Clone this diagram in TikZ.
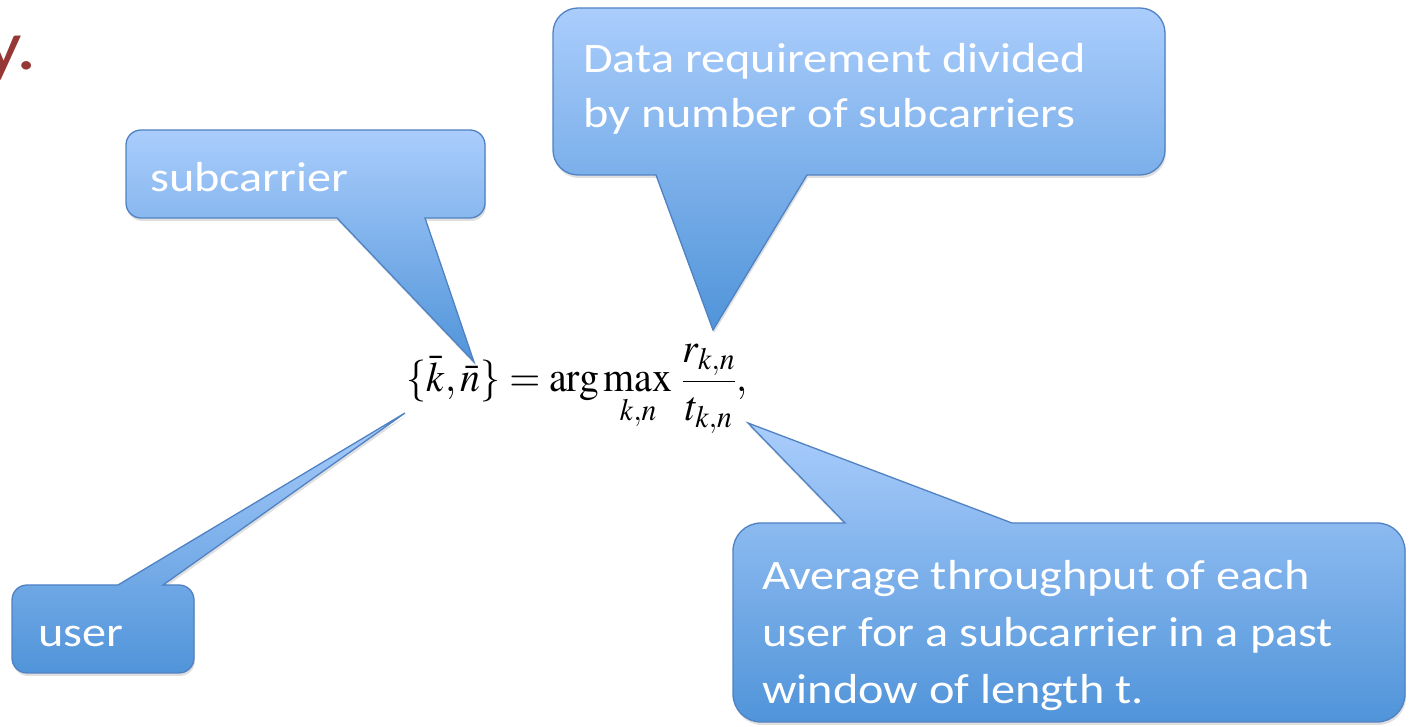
\documentclass[tikz,border=0pt]{standalone}
\usepackage{mathptmx}
\usepackage{fontspec}
\newfontfamily\calib{Carlito}
\usetikzlibrary{shadows}
\definecolor{cotop}{RGB}{170,205,252}
\definecolor{cobot}{RGB}{80,148,217}
\definecolor{coline}{RGB}{80,130,195}
\definecolor{titlered}{RGB}{149,55,53}
\newcommand{\wide}[1]{\scalebox{1.15}[1]{#1}}
\tikzset{
  callshape/.style={top color=cotop, bottom color=cobot, draw=coline, line width=1.3pt, line join=miter,
    drop shadow={shadow xshift=1pt, shadow yshift=-3pt, opacity=0.25}},
  calltext/.style={text=white, font=\calib\fontsize{42}{55}\selectfont, inner sep=0pt, anchor=base west},
}
\begin{document}
\begin{tikzpicture}[x=1pt,y=1pt]
\useasboundingbox (0,0) rectangle (1410,727);
\clip (0,0) rectangle (1410,727);
% title fragment
\node[anchor=base east, inner sep=0pt, text=titlered, font=\calib\fontsize{70}{84}\selectfont] (title) at (37,657) {\wide{y.}};
% callout: subcarrier
\path[callshape] (141,597) -- (470,597) arc[start angle=90,end angle=0,radius=15] -- (485,524)
  arc[start angle=0,end angle=-90,radius=15] -- (425,509) -- (474,365) -- (337,509) -- (141,509)
  arc[start angle=270,end angle=180,radius=15] -- (126,582) arc[start angle=180,end angle=90,radius=15] -- cycle;
% callout: data requirement
\path[callshape] (578,719) -- (1140,719) arc[start angle=90,end angle=0,radius=25] -- (1165,577)
  arc[start angle=0,end angle=-90,radius=25] -- (807,552) -- (713,397) -- (656,552) -- (578,552)
  arc[start angle=270,end angle=180,radius=25] -- (553,694) arc[start angle=180,end angle=90,radius=25] -- cycle;
% callout: user
\path[callshape] (27,142) -- (118,142) -- (405,314) -- (163,142) -- (179,142)
  arc[start angle=90,end angle=0,radius=15] -- (194,69) arc[start angle=0,end angle=-90,radius=15] -- (27,54)
  arc[start angle=270,end angle=180,radius=15] -- (12,127) arc[start angle=180,end angle=90,radius=15] -- cycle;
% callout: average throughput
\path[callshape] (761,204) -- (845,204) -- (748,304) -- (1012,204) -- (1377,204)
  arc[start angle=90,end angle=0,radius=28] -- (1405,33) arc[start angle=0,end angle=-90,radius=28] -- (761,5)
  arc[start angle=270,end angle=180,radius=28] -- (733,176) arc[start angle=180,end angle=90,radius=28] -- cycle;
% texts
\node[calltext] (t1) at (150,535) {\wide{subcarrier}};
\node[calltext] (t2) at (583,654) {\vtop{\hbox{\wide{Data requirement divided}}\hbox{\wide{by number of subcarriers}}}};
\node[calltext] (t3) at (38,80) {\wide{user}};
\node[calltext, font=\calib\fontsize{42}{57}\selectfont] (t4) at (762,137) {\vtop{\hbox{\wide{Average throughput of each}}\hbox{\wide{user for a subcarrier in a past}}\hbox{\wide{window of length t.}}}};
% formula
\node[inner sep=0pt] (eq) at (577,338) {\scalebox{0.95}[1]{\fontsize{42}{50}\selectfont $\displaystyle \{\bar{k},\bar{n}\} = \arg\max_{k,n}\,\frac{r_{k,n}}{t_{k,n}},$}};
\end{tikzpicture}
\end{document}
